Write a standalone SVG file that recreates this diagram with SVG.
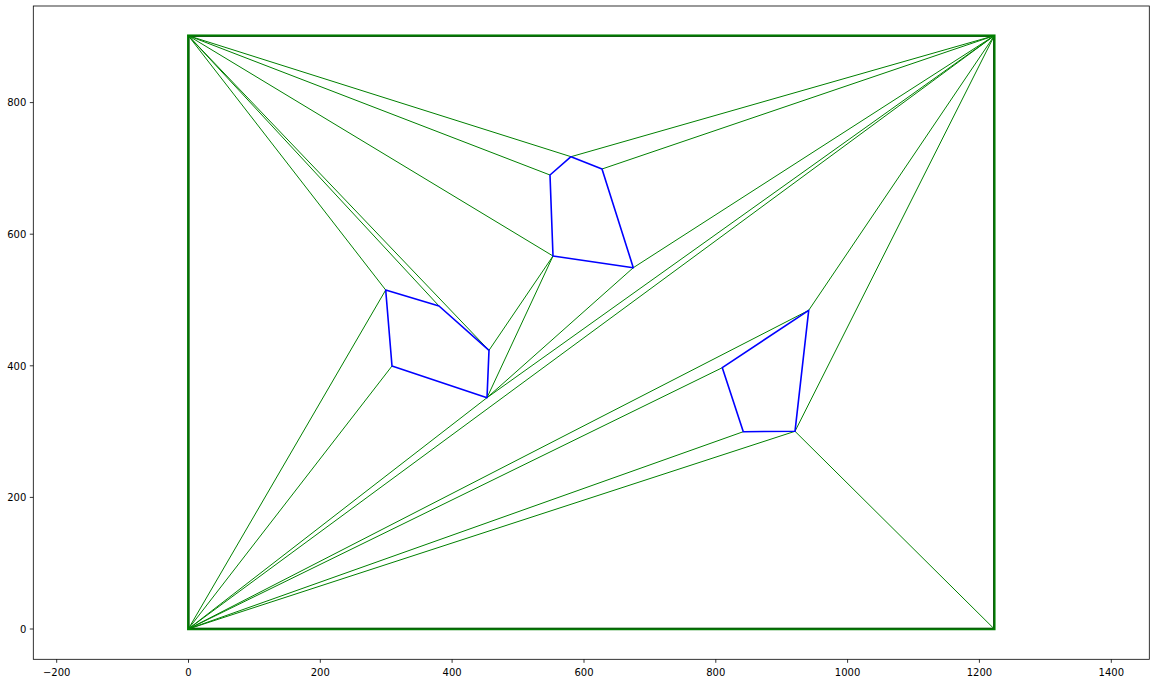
<svg xmlns="http://www.w3.org/2000/svg" width="1156" height="683" viewBox="0 0 1156 683">
<style>
.tri{stroke:#008000;stroke-width:1;fill:none}
.hole{stroke:#0000ff;stroke-width:1.6;fill:none;stroke-linejoin:round}
.spine{stroke:#000;stroke-width:0.8;fill:none}
.tick{stroke:#000;stroke-width:0.8}
.lbl{font-family:"DejaVu Sans",sans-serif;font-size:10px;fill:#000}
</style>
<rect x="0" y="0" width="1156" height="683" fill="#fff"/>
<g id="axes">
<rect class="spine" x="33.3" y="6" width="1116" height="653.3"/>
<g class="tick">
<line x1="56.7" y1="659.3" x2="56.7" y2="662.8"/>
<line x1="188.5" y1="659.3" x2="188.5" y2="662.8"/>
<line x1="320.3" y1="659.3" x2="320.3" y2="662.8"/>
<line x1="452.1" y1="659.3" x2="452.1" y2="662.8"/>
<line x1="584" y1="659.3" x2="584" y2="662.8"/>
<line x1="715.8" y1="659.3" x2="715.8" y2="662.8"/>
<line x1="847.6" y1="659.3" x2="847.6" y2="662.8"/>
<line x1="979.4" y1="659.3" x2="979.4" y2="662.8"/>
<line x1="1111.3" y1="659.3" x2="1111.3" y2="662.8"/>
<line x1="29.8" y1="629" x2="33.3" y2="629"/>
<line x1="29.8" y1="497.4" x2="33.3" y2="497.4"/>
<line x1="29.8" y1="365.8" x2="33.3" y2="365.8"/>
<line x1="29.8" y1="234.2" x2="33.3" y2="234.2"/>
<line x1="29.8" y1="102.6" x2="33.3" y2="102.6"/>
</g>
<g class="lbl" text-anchor="middle">
<text x="56.7" y="675.7">−200</text>
<text x="188.5" y="675.7">0</text>
<text x="320.3" y="675.7">200</text>
<text x="452.1" y="675.7">400</text>
<text x="584" y="675.7">600</text>
<text x="715.8" y="675.7">800</text>
<text x="847.6" y="675.7">1000</text>
<text x="979.4" y="675.7">1200</text>
<text x="1111.3" y="675.7">1400</text>
</g>
<g class="lbl" text-anchor="end">
<text x="26.3" y="632.7">0</text>
<text x="26.3" y="501.1">200</text>
<text x="26.3" y="369.5">400</text>
<text x="26.3" y="237.9">600</text>
<text x="26.3" y="106.3">800</text>
</g>
</g>
<g id="boundary">
<rect x="188.3" y="35.7" width="806" height="593.3" fill="none" stroke="#008000" stroke-width="2.5"/>
<rect x="189" y="36.4" width="804.6" height="591.9" fill="none" stroke="#1a3a1a" stroke-width="1" stroke-opacity="0.6"/>
</g>
<g id="connectors" class="tri">
<line x1="188.3" y1="35.7" x2="385.7" y2="290"/>
<line x1="188.3" y1="35.7" x2="439" y2="306"/>
<line x1="188.3" y1="35.7" x2="489" y2="350.3"/>
<line x1="188.3" y1="35.7" x2="553" y2="256"/>
<line x1="188.3" y1="35.7" x2="550" y2="175"/>
<line x1="188.3" y1="35.7" x2="571" y2="156.7"/>
<line x1="994.3" y1="35.7" x2="571" y2="156.7"/>
<line x1="994.3" y1="35.7" x2="602" y2="169"/>
<line x1="994.3" y1="35.7" x2="633.3" y2="267.7"/>
<line x1="994.3" y1="35.7" x2="487" y2="397.7"/>
<line x1="994.3" y1="35.7" x2="188.3" y2="629"/>
<line x1="994.3" y1="35.7" x2="808.7" y2="310.3"/>
<line x1="994.3" y1="35.7" x2="795" y2="431.3"/>
<line x1="994.3" y1="629" x2="795" y2="431.3"/>
<line x1="188.3" y1="629" x2="795" y2="431.3"/>
<line x1="188.3" y1="629" x2="743.3" y2="431.7"/>
<line x1="188.3" y1="629" x2="722.3" y2="367.7"/>
<line x1="188.3" y1="629" x2="808.7" y2="310.3"/>
<line x1="188.3" y1="629" x2="487" y2="397.7"/>
<line x1="188.3" y1="629" x2="392" y2="366"/>
<line x1="188.3" y1="629" x2="385.7" y2="290"/>
<line x1="553" y1="256" x2="489" y2="350.3"/>
<line x1="553" y1="256" x2="487" y2="397.7"/>
<line x1="633.3" y1="267.7" x2="487" y2="397.7"/>
</g>
<g id="hole-left">
<polygon class="hole" points="385.7,290 439,306 489,350.3 487,397.7 392,366"/>
</g>
<g id="hole-top">
<polygon class="hole" points="550,175 571,156.7 602,169 633.3,267.7 553,256"/>
</g>
<g id="hole-right">
<polygon class="hole" points="808.7,310.3 722.3,367.7 743.3,431.7 795,431.3"/>
</g>
</svg>
